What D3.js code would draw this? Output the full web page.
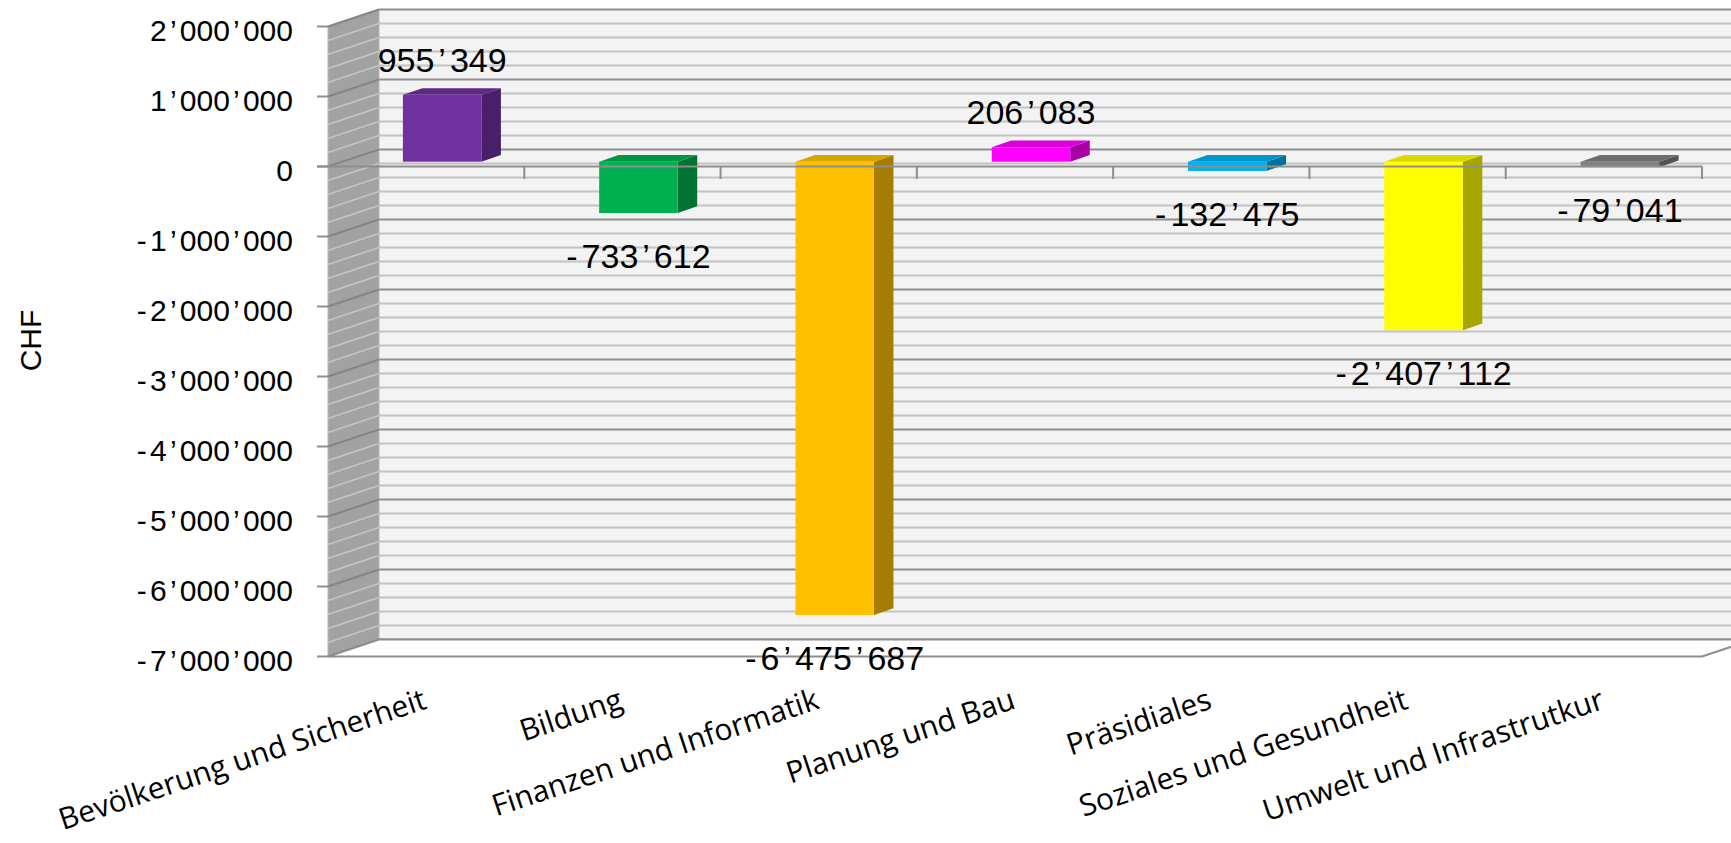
<!DOCTYPE html>
<html>
<head>
<meta charset="utf-8">
<script src="https://cdn.jsdelivr.net/npm/d3@7"></script>
<style>
  html, body { margin: 0; padding: 0; background: #fff; }
  svg { display: block; }
  .num { font-family: "Liberation Sans", Arial, sans-serif; fill: #000; }
  .cat { font-family: "Open Sans", "Noto Sans", sans-serif; fill: #000; }
</style>
</head>
<body>
<script>
var categories = ['Bevölkerung und Sicherheit', 'Bildung', 'Finanzen und Informatik',
                  'Planung und Bau', 'Präsidiales', 'Soziales und Gesundheit',
                  'Umwelt und Infrastrutkur'];
var values = [955349, -733612, -6475687, 206083, -132475, -2407112, -79041];
var barColors = ['#7030A0', '#00B050', '#FFC000', '#FF00FF', '#00B0F0', '#FFFF00', '#808080'];
var yTicks = [2000000, 1000000, 0, -1000000, -2000000, -3000000, -4000000, -5000000, -6000000, -7000000];
var yTitle = 'CHF';

var W = 1731, H = 843;
var wall = {dx: 51, dy: -17};      // depth of the box
var barOff = {dx: 16, dy: -4.8};   // bar front face behind front plane
var barDepth = {dx: 19.5, dy: -6.7};

var svg = d3.select('body').append('svg')
  .attr('width', W).attr('height', H);

var x = d3.scaleBand().domain(categories).range([328, 1702]);
var y = d3.scaleLinear().domain([-7000000, 2000000]).range([656.5, 26.5]);

var chf = d3.formatLocale({decimal: '.', thousands: '\u2019', grouping: [3], currency: ['', ''], minus: '-'}).format(',d');

// minor ticks every 200'000
var minor = d3.range(-7000000, 2000001, 200000);
var isMajor = function(v) { return Math.abs(v % 1000000) < 1; };

// back wall
var bx0 = x.range()[0] + wall.dx, bx1 = x.range()[1] + wall.dx;
svg.append('rect')
  .attr('x', bx0).attr('y', y(2000000) + wall.dy)
  .attr('width', bx1 - bx0).attr('height', y(-7000000) - y(2000000))
  .attr('fill', '#F3F3F3');

svg.append('g').selectAll('line')
  .data(minor.filter(function(v) { return !isMajor(v); }))
  .enter().append('line')
  .attr('x1', bx0).attr('x2', bx1)
  .attr('y1', function(d) { return y(d) + wall.dy; })
  .attr('y2', function(d) { return y(d) + wall.dy; })
  .attr('stroke', '#C2C2C2').attr('stroke-width', 2);

svg.append('g').selectAll('line')
  .data(yTicks)
  .enter().append('line')
  .attr('x1', bx0).attr('x2', bx1)
  .attr('y1', function(d) { return y(d) + wall.dy; })
  .attr('y2', function(d) { return y(d) + wall.dy; })
  .attr('stroke', '#8E8E8E').attr('stroke-width', 2.2);

// left wall
var lx = x.range()[0];
svg.append('path')
  .attr('d', 'M' + lx + ',' + y(2000000) + 'L' + (lx + wall.dx) + ',' + (y(2000000) + wall.dy) +
             'L' + (lx + wall.dx) + ',' + (y(-7000000) + wall.dy) + 'L' + lx + ',' + y(-7000000) + 'Z')
  .attr('fill', '#A2A2A2').attr('stroke', '#B5B5B5').attr('stroke-width', 1);

svg.append('g').selectAll('line')
  .data(minor.filter(function(v) { return !isMajor(v); }))
  .enter().append('line')
  .attr('x1', lx).attr('x2', lx + wall.dx)
  .attr('y1', function(d) { return y(d); })
  .attr('y2', function(d) { return y(d) + wall.dy; })
  .attr('stroke', '#C4C4C4').attr('stroke-width', 1.8);

svg.append('g').selectAll('line')
  .data(yTicks)
  .enter().append('line')
  .attr('x1', lx).attr('x2', lx + wall.dx)
  .attr('y1', function(d) { return y(d); })
  .attr('y2', function(d) { return y(d) + wall.dy; })
  .attr('stroke', '#858585').attr('stroke-width', 2);

// floor
var fy = y(-7000000);
svg.append('path')
  .attr('d', 'M' + lx + ',' + fy + 'L' + x.range()[1] + ',' + fy +
             'L' + bx1 + ',' + (fy + wall.dy) + 'L' + bx0 + ',' + (fy + wall.dy) + 'Z')
  .attr('fill', '#FFFFFF').attr('stroke', '#8E8E8E').attr('stroke-width', 2);

// y axis ticks
svg.append('g').selectAll('line')
  .data(yTicks)
  .enter().append('line')
  .attr('x1', lx - 11).attr('x2', lx)
  .attr('y1', function(d) { return y(d); })
  .attr('y2', function(d) { return y(d); })
  .attr('stroke', '#8E8E8E').attr('stroke-width', 2);

// bars
var bw = x.bandwidth() / 2.5;
var bars = svg.append('g').selectAll('g')
  .data(values)
  .enter().append('g');

function fx(d, i) { return x(categories[i]) + x.bandwidth() / 2 - bw / 2 + barOff.dx; }
function fTop(d) { return y(Math.max(d, 0)) + barOff.dy; }
function fBot(d) { return y(Math.min(d, 0)) + barOff.dy; }

// right side
bars.append('path')
  .attr('d', function(d, i) {
    var x1 = fx(d, i) + bw, t = fTop(d), b = fBot(d);
    return 'M' + x1 + ',' + t + 'L' + (x1 + barDepth.dx) + ',' + (t + barDepth.dy) +
           'L' + (x1 + barDepth.dx) + ',' + (b + barDepth.dy) + 'L' + x1 + ',' + b + 'Z';
  })
  .attr('fill', function(d, i) { return d3.rgb(barColors[i]).darker(1.2); });

// top
bars.append('path')
  .attr('d', function(d, i) {
    var x0 = fx(d, i), t = fTop(d);
    return 'M' + x0 + ',' + t + 'L' + (x0 + bw) + ',' + t +
           'L' + (x0 + bw + barDepth.dx) + ',' + (t + barDepth.dy) + 'L' + (x0 + barDepth.dx) + ',' + (t + barDepth.dy) + 'Z';
  })
  .attr('fill', function(d, i) { return d3.rgb(barColors[i]).darker(0.45); });

// front
bars.append('rect')
  .attr('x', fx)
  .attr('y', function(d) { return fTop(d); })
  .attr('width', bw)
  .attr('height', function(d) { return fBot(d) - fTop(d); })
  .attr('fill', function(d, i) { return barColors[i]; });

// x axis line + ticks (front plane)
svg.append('line')
  .attr('x1', lx - 11).attr('x2', x.range()[1])
  .attr('y1', y(0)).attr('y2', y(0))
  .attr('stroke', '#8E8E8E').attr('stroke-width', 2);

svg.append('g').selectAll('line')
  .data(categories)
  .enter().append('line')
  .attr('x1', function(d) { return x(d) + x.bandwidth(); })
  .attr('x2', function(d) { return x(d) + x.bandwidth(); })
  .attr('y1', y(0)).attr('y2', y(0) + 12.5)
  .attr('stroke', '#8E8E8E').attr('stroke-width', 2);

// number text with wider separators
function numText(sel, str, sepGap) {
  var parts = str.split(/([\u2019-])/).filter(function(p) { return p.length; });
  var prevSep = false;
  parts.forEach(function(p) {
    var sep = (p === '\u2019' || p === '-');
    var t = sel.append('tspan').text(p);
    var dx = 0;
    if (sep && p === '\u2019') dx += sepGap;
    if (prevSep) dx += sepGap;
    if (dx) t.attr('dx', dx);
    prevSep = sep;
  });
}

// y tick labels
svg.append('g').selectAll('text')
  .data(yTicks)
  .enter().append('text')
  .attr('class', 'num')
  .attr('x', 293)
  .attr('y', function(d) { return y(d) + 14; })
  .attr('text-anchor', 'end')
  .style('font-size', '30px')
  .each(function(d) { numText(d3.select(this), chf(d), 3.2); });

// data labels
svg.append('g').selectAll('text')
  .data(values)
  .enter().append('text')
  .attr('class', 'num')
  .attr('x', function(d, i) { return fx(d, i) + bw / 2; })
  .attr('y', function(d) {
    return d >= 0 ? fTop(d) + barDepth.dy - 16.5 : fBot(d) + 54.7;
  })
  .attr('text-anchor', 'middle')
  .style('font-size', '34px')
  .each(function(d) { numText(d3.select(this), chf(d), 4); });

// category labels
svg.append('g').selectAll('text')
  .data(categories)
  .enter().append('text')
  .attr('class', 'cat')
  .attr('text-anchor', 'end')
  .attr('transform', function(d) {
    return 'translate(' + (x(d) + x.bandwidth() / 2 + 2) + ',708) rotate(-18.5)';
  })
  .style('font-size', '30px')
  .text(function(d) { return d; });

// y title
svg.append('text')
  .attr('transform', 'translate(41,340.5) rotate(-90)')
  .attr('text-anchor', 'middle')
  .style('font-family', '"Liberation Sans Narrow", "Liberation Sans", sans-serif')
  .style('font-size', '30px')
  .text(yTitle);
</script>
</body>
</html>
